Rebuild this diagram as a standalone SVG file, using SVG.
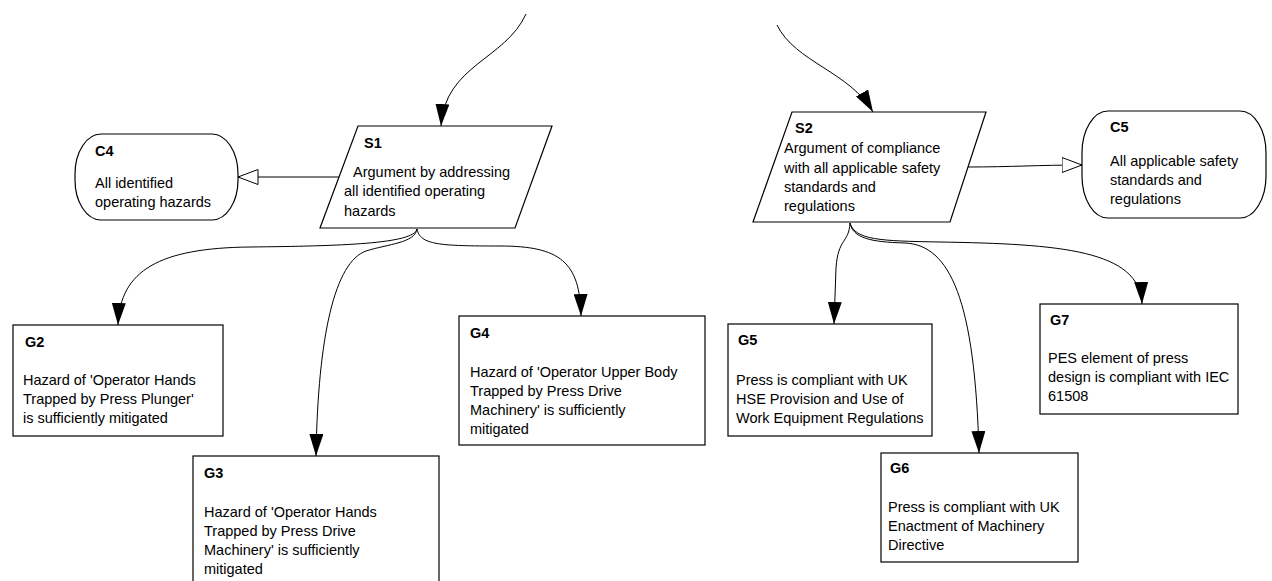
<svg xmlns="http://www.w3.org/2000/svg" width="1272" height="581" viewBox="0 0 1272 581">
<defs>
<style>
.box{fill:#fff;stroke:#000;stroke-width:1.2}
.t{font-family:"Liberation Sans",Arial,sans-serif;font-size:14.5px;fill:#000}
.b{font-weight:bold}
.c{fill:none;stroke:#000;stroke-width:1}
</style>
<marker id="arr" markerUnits="userSpaceOnUse" markerWidth="22" markerHeight="14" refX="22" refY="7" orient="auto">
<path d="M0,0 L22,7 L0,14 Z" fill="#000"/>
</marker>
<marker id="hol" markerUnits="userSpaceOnUse" markerWidth="21" markerHeight="17" refX="20.5" refY="8.5" orient="auto">
<path d="M0.5,1 L20.5,8.5 L0.5,16 Z" fill="#fff" stroke="#000" stroke-width="1"/>
</marker>
</defs>
<rect width="1272" height="581" fill="#fff"/>
<g id="connectors">
<path class="c" d="M526,14 C505,60 445,65 441,126" marker-end="url(#arr)"/>
<path class="c" d="M777,25 C795,62 850,72 873,112" marker-end="url(#arr)"/>
<path class="c" d="M339,177 L238,177" marker-end="url(#hol)"/>
<path class="c" d="M968,167 C1010,167 1040,165 1082,165" marker-end="url(#hol)"/>
<path class="c" d="M417,229 C414,244 340,246 250,247 C160,248 120,270 118,325" marker-end="url(#arr)"/>
<path class="c" d="M417,229 C415,243 388,244 366,251 C335,262 318,335 316,456" marker-end="url(#arr)"/>
<path class="c" d="M417,229 C420,245 440,246 500,246 C560,246 580,262 581,316" marker-end="url(#arr)"/>
<path class="c" d="M850,223 C849,243 838,238 836,268 L834,324" marker-end="url(#arr)"/>
<path class="c" d="M850,223 C853,238 870,242 905,243 C950,245 975,300 979,453" marker-end="url(#arr)"/>
<path class="c" d="M850,223 C855,240 880,241 940,242 C1060,244 1140,250 1142,304" marker-end="url(#arr)"/>
</g>
<g id="C4">
<rect class="box" x="75" y="134" width="163" height="86" rx="26" ry="40"/>
<text class="t b" x="95" y="156">C4</text>
<text class="t" x="95" y="188">All identified</text>
<text class="t" x="95" y="207">operating hazards</text>
</g>
<g id="S1">
<polygon class="box" points="358,126 552,126 515,228 320,228"/>
<text class="t b" x="364" y="148">S1</text>
<text class="t" x="353" y="177">Argument by addressing</text>
<text class="t" x="344" y="196">all identified operating</text>
<text class="t" x="344" y="216">hazards</text>
</g>
<g id="S2">
<polygon class="box" points="792,112 986,112 950,222 753,222"/>
<text class="t b" x="795" y="133">S2</text>
<text class="t" x="784" y="153">Argument of compliance</text>
<text class="t" x="784" y="173">with all applicable safety</text>
<text class="t" x="784" y="192">standards and</text>
<text class="t" x="784" y="211">regulations</text>
</g>
<g id="C5">
<rect class="box" x="1082" y="111" width="184" height="107" rx="26" ry="42"/>
<text class="t b" x="1110" y="132">C5</text>
<text class="t" x="1110" y="166">All applicable safety</text>
<text class="t" x="1110" y="185">standards and</text>
<text class="t" x="1110" y="204">regulations</text>
</g>
<g id="G2">
<rect class="box" x="13" y="325" width="210" height="111"/>
<text class="t b" x="25" y="347">G2</text>
<text class="t" x="23" y="385">Hazard of 'Operator Hands</text>
<text class="t" x="23" y="404">Trapped by Press Plunger'</text>
<text class="t" x="23" y="423">is sufficiently mitigated</text>
</g>
<g id="G3">
<rect class="box" x="193" y="456" width="246" height="130"/>
<text class="t b" x="204" y="478">G3</text>
<text class="t" x="204" y="517">Hazard of 'Operator Hands</text>
<text class="t" x="204" y="536">Trapped by Press Drive</text>
<text class="t" x="204" y="555">Machinery' is sufficiently</text>
<text class="t" x="204" y="574">mitigated</text>
</g>
<g id="G4">
<rect class="box" x="459" y="316" width="246" height="129"/>
<text class="t b" x="470" y="338">G4</text>
<text class="t" x="470" y="377">Hazard of 'Operator Upper Body</text>
<text class="t" x="470" y="396">Trapped by Press Drive</text>
<text class="t" x="470" y="415">Machinery' is sufficiently</text>
<text class="t" x="470" y="434">mitigated</text>
</g>
<g id="G5">
<rect class="box" x="728" y="324" width="204" height="112"/>
<text class="t b" x="738" y="345">G5</text>
<text class="t" x="736" y="385">Press is compliant with UK</text>
<text class="t" x="736" y="404">HSE Provision and Use of</text>
<text class="t" x="736" y="423">Work Equipment Regulations</text>
</g>
<g id="G6">
<rect class="box" x="881" y="453" width="197" height="109"/>
<text class="t b" x="890" y="473">G6</text>
<text class="t" x="888" y="512">Press is compliant with UK</text>
<text class="t" x="888" y="531">Enactment of Machinery</text>
<text class="t" x="888" y="550">Directive</text>
</g>
<g id="G7">
<rect class="box" x="1040" y="304" width="198" height="110"/>
<text class="t b" x="1050" y="325">G7</text>
<text class="t" x="1048" y="363">PES element of press</text>
<text class="t" x="1048" y="382">design is compliant with IEC</text>
<text class="t" x="1048" y="401">61508</text>
</g>
</svg>
